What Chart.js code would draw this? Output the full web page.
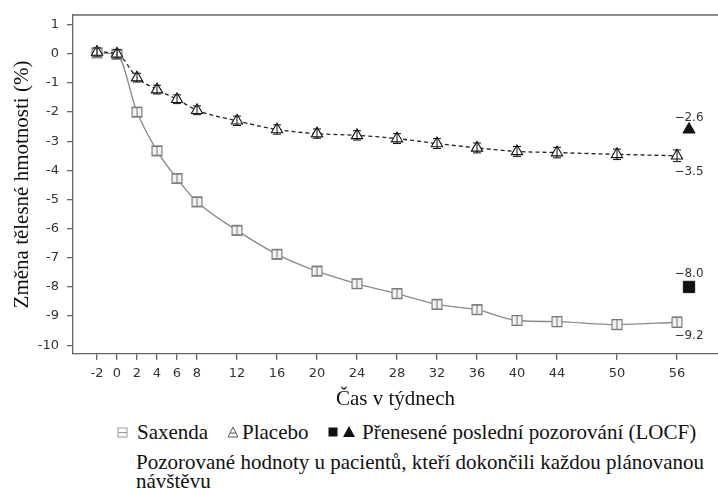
<!DOCTYPE html>
<html>
<head>
<meta charset="utf-8">
<script src="https://cdn.jsdelivr.net/npm/chart.js@4.4.1/dist/chart.umd.min.js"></script>
<style>
body{margin:0;background:#fff;}
#wrap{position:relative;width:718px;height:489px;overflow:hidden;}
#box{position:absolute;left:0;top:0;width:718px;height:415px;}
.leg{position:absolute;font-family:"Liberation Serif","Times New Roman",serif;font-size:21px;color:#111;white-space:nowrap;}
.leg svg{position:absolute;}
</style>
</head>
<body>
<div id="wrap">
<div id="box"><canvas id="chart"></canvas></div>
<svg class="leg" style="left:117px;top:427px" width="11" height="11"><rect x="1" y="1" width="9" height="9" fill="#fff" stroke="#999"/><line x1="1" y1="5.5" x2="10" y2="5.5" stroke="#999"/></svg>
<div class="leg" style="left:137px;top:420px;line-height:24px">Saxenda</div>
<svg class="leg" style="left:227px;top:426px" width="12" height="12"><polygon points="6,1 11,11 1,11" fill="#fff" stroke="#555"/><line x1="3" y1="7" x2="9" y2="7" stroke="#555"/></svg>
<div class="leg" style="left:242px;top:420px;line-height:24px">Placebo</div>
<svg class="leg" style="left:328px;top:427px" width="10" height="10"><rect x="0.5" y="0.5" width="9" height="9" fill="#111"/></svg>
<svg class="leg" style="left:343px;top:426px" width="12" height="11"><polygon points="6,0 12,11 0,11" fill="#111"/></svg>
<div class="leg" style="left:362px;top:420px;line-height:24px">Přenesené poslední pozorování (LOCF)</div>
<div class="leg" style="left:136px;top:453px;line-height:19px">Pozorované hodnoty u pacientů, kteří dokončili každou plánovanou<br>návštěvu</div>
</div>
<script>
// tydny a hodnoty
const weeks = [-2, 0, 2, 4, 6, 8, 12, 16, 20, 24, 28, 32, 36, 40, 44, 50, 56];
const saxenda = [0.03, -0.02, -2.0, -3.33, -4.28, -5.08, -6.06, -6.88, -7.46, -7.89, -8.23, -8.6, -8.78, -9.15, -9.19, -9.29, -9.21];
const placebo = [0.06, 0.0, -0.82, -1.23, -1.56, -1.94, -2.3, -2.6, -2.74, -2.8, -2.91, -3.08, -3.23, -3.35, -3.39, -3.45, -3.5];
const saxErr = [0.14, 0.14, 0.15, 0.15, 0.15, 0.15, 0.15, 0.15, 0.15, 0.16, 0.16, 0.16, 0.16, 0.17, 0.17, 0.17, 0.18];
const plaErr = [0.14, 0.14, 0.15, 0.15, 0.15, 0.15, 0.16, 0.16, 0.16, 0.16, 0.17, 0.17, 0.17, 0.17, 0.18, 0.18, 0.2];
const locfWeek = 57.2;
const locfSax = -8.0;
const locfPla = -2.6;
const xTicks = weeks;
const yTicks = [1, 0, -1, -2, -3, -4, -5, -6, -7, -8, -9, -10];

const fmt = v => v.toFixed(1).replace('-', '\u2212');

const extras = {
    id: 'extras',
    afterDatasetsDraw(chart) {
        const ctx = chart.ctx;
        const xs = chart.scales.x, ys = chart.scales.y;
        const area = chart.chartArea;
        ctx.save();
        // horni okraj
        ctx.strokeStyle = '#666';
        ctx.lineWidth = 1.3;
        ctx.beginPath();
        ctx.moveTo(area.left, area.top);
        ctx.lineTo(chart.width, area.top);
        ctx.stroke();
        // chybove usecky
        const bars = [[saxenda, saxErr, '#777', 5], [placebo, plaErr, '#111', 4]];
        bars.forEach(([vals, errs, col, cap]) => {
            ctx.strokeStyle = col;
            ctx.lineWidth = 1;
            vals.forEach((v, i) => {
                const px = xs.getPixelForValue(weeks[i]);
                const y1 = ys.getPixelForValue(v + errs[i]);
                const y2 = ys.getPixelForValue(v - errs[i]);
                ctx.beginPath();
                ctx.moveTo(px, y1); ctx.lineTo(px, y2);
                ctx.moveTo(px - cap, y1); ctx.lineTo(px + cap, y1);
                ctx.moveTo(px - cap, y2); ctx.lineTo(px + cap, y2);
                ctx.stroke();
            });
        });
        // popisky hodnot
        ctx.fillStyle = '#333';
        ctx.font = '12px "DejaVu Sans", sans-serif';
        ctx.textAlign = 'center';
        ctx.textBaseline = 'middle';
        const lx = xs.getPixelForValue(locfWeek);
        const last = weeks.length - 1;
        ctx.fillText(fmt(locfPla), lx, ys.getPixelForValue(locfPla) - 12);
        ctx.fillText(fmt(placebo[last]), lx, ys.getPixelForValue(placebo[last]) + 16);
        ctx.fillText(fmt(locfSax), lx, ys.getPixelForValue(locfSax) - 13);
        ctx.fillText(fmt(saxenda[last]), lx, ys.getPixelForValue(saxenda[last]) + 14);
        ctx.restore();
    }
};

const tickFont = { family: '"DejaVu Sans", sans-serif', size: 13 };
const titleFont = { family: '"Liberation Serif", "Times New Roman", serif', size: 21 };

let myChart = document.getElementById('chart').getContext('2d');

let lineChart = new Chart(myChart, {
    type: 'line',
    data:
    {
        datasets:
        [{
            label: 'Placebo',
            data: weeks.map((w, i) => ({ x: w, y: placebo[i] })),
            borderColor: '#222',
            borderWidth: 1.3,
            borderDash: [4, 3],
            cubicInterpolationMode: 'monotone',
            pointStyle: 'triangle',
            pointRadius: 6.5,
            pointBackgroundColor: '#fff',
            pointBorderColor: '#111',
            pointBorderWidth: 1.1,
            order: 1
        },
        {
            label: 'Saxenda',
            data: weeks.map((w, i) => ({ x: w, y: saxenda[i] })),
            borderColor: '#8a8a8a',
            borderWidth: 1.3,
            cubicInterpolationMode: 'monotone',
            pointStyle: 'rect',
            pointRadius: 7,
            pointBackgroundColor: '#f2f2f2',
            pointBorderColor: '#8a8a8a',
            pointBorderWidth: 1.3,
            order: 2
        },
        {
            label: 'LOCF Saxenda',
            data: [{ x: locfWeek, y: locfSax }],
            showLine: false,
            pointStyle: 'rect',
            pointRadius: 8,
            pointBackgroundColor: '#111',
            pointBorderColor: '#111',
            order: 3
        },
        {
            label: 'LOCF Placebo',
            data: [{ x: locfWeek, y: locfPla }],
            showLine: false,
            pointStyle: 'triangle',
            pointRadius: 7,
            pointBackgroundColor: '#111',
            pointBorderColor: '#111',
            order: 3
        }]
    },
    options:
    {
        responsive: true,
        maintainAspectRatio: false,
        animation: false,
        events: [],
        layout: { autoPadding: false, padding: { top: 15, right: 0, left: 0, bottom: 0 } },
        plugins: { legend: { display: false }, tooltip: { enabled: false } },
        scales:
        {
            x:
            {
                type: 'linear',
                min: -4.4,
                max: 60.1,
                afterBuildTicks: s => { s.ticks = xTicks.map(v => ({ value: v })); },
                afterFit: s => { s.height = 61; s.paddingLeft = 0; s.paddingRight = 0; },
                grid: { drawOnChartArea: false, drawTicks: true, tickLength: 6, color: '#666', lineWidth: 1.3 },
                border: { color: '#666', width: 1.3 },
                ticks: { font: tickFont, color: '#333', padding: 6, maxRotation: 0, autoSkip: false },
                title: { display: true, text: 'Čas v týdnech', font: titleFont, color: '#111', padding: { top: 0, bottom: 3 } }
            },
            y:
            {
                min: -10.3,
                max: 1.33,
                afterBuildTicks: s => { s.ticks = yTicks.map(v => ({ value: v })); },
                afterFit: s => { s.width = 73; s.paddingTop = 0; s.paddingBottom = 0; },
                grid: { drawOnChartArea: false, drawTicks: true, tickLength: 6, color: '#666', lineWidth: 1.3 },
                border: { color: '#666', width: 1.3 },
                ticks: { font: tickFont, color: '#333', padding: 8 },
                title: { display: true, text: 'Změna tělesné hmotnosti (%)', font: titleFont, color: '#111', padding: { top: 10, bottom: 0 } }
            }
        }
    },
    plugins: [extras]
});
</script>
</body>
</html>
